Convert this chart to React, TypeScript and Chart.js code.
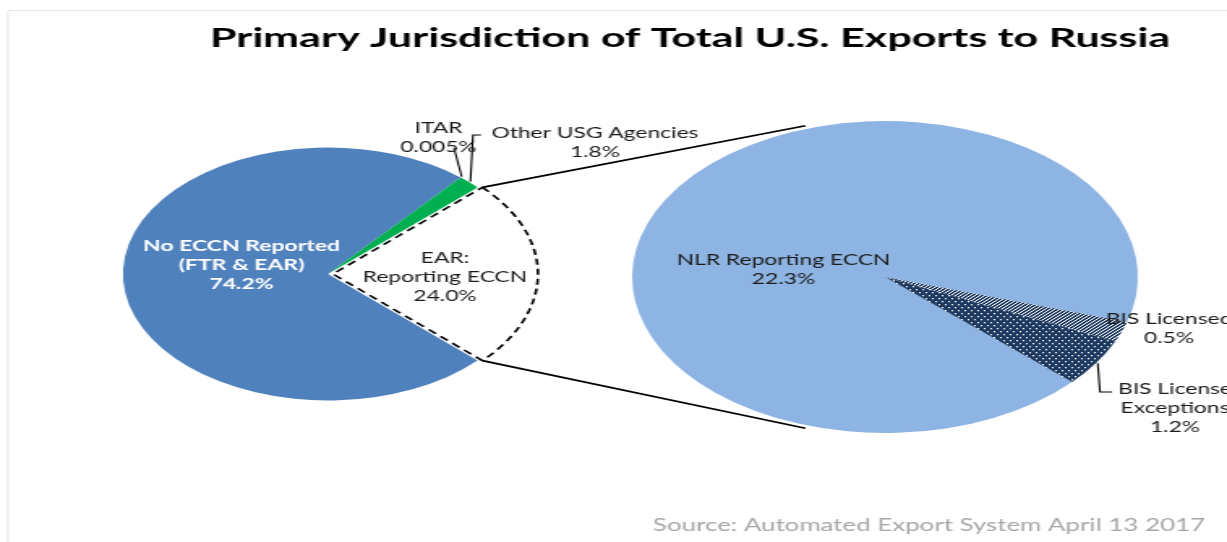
import React, { useEffect, useRef } from 'react';
import { Chart, registerables } from 'chart.js';

Chart.register(...registerables);

// ---------- data ----------
const primaryLabels: string[][] = [['EAR:', 'Reporting ECCN'], ['No ECCN Reported', '(FTR & EAR)'], ['ITAR'], ['Other USG Agencies']];
const primaryValues: number[] = [24.0, 74.2, 0.005, 1.8];
const primaryColors: string[] = ['#FFFFFF', '#4F81BD', '#00B050', '#00B050'];

const secondaryLabels: string[][] = [['NLR Reporting ECCN'], ['BIS Licensed'], ['BIS License', 'Exceptions']];
const secondaryValues: number[] = [22.3, 0.5, 1.2];

const titleText = 'Primary Jurisdiction of Total U.S. Exports to Russia';
const sourceText = 'Source: Automated Export System April 13 2017';

// ---------- layout (page pixels) ----------
const PAGE_W = 1227;
const PAGE_H = 542;
const CW = 757; // canvas drawing width; stretched to PAGE_W to get the flattened pies
const S = PAGE_W / CW;

const LEFT_PIE = { x: 328, y: 274, r: 126.5 };
const RIGHT_PIE = { x: 885, y: 277, r: 156 };
const SECONDARY_ROTATION = 132.3;
const CONNECTOR_ANGLE = 108;

const primaryLabelPos = [
  { x: 445, y: 262.7 },
  { x: 241.5, y: 250.5 },
  { x: 438.5, y: 133 },
  { x: 595, y: 137.5 },
];
const secondaryLabelPos = [
  { x: 783.5, y: 265 },
  { x: 1169, y: 324 },
  { x: 1175, y: 394 },
];
const LINE_H = 19.2;

const FONT_FAMILY = 'Lato, "Open Sans", sans-serif';
const LABEL_FONT = `16px ${FONT_FAMILY}`;
const LABEL_BOLD_FONT = `bold 16px ${FONT_FAMILY}`;
const TITLE_FONT = `bold 27px ${FONT_FAMILY}`;
const SOURCE_FONT = `17px ${FONT_FAMILY}`;

const fmt = (v: number) => (v < 0.1 ? v.toFixed(3) : v.toFixed(1)) + '%';

function makePattern(kind: 'stripes' | 'dots'): CanvasPattern | string {
  const c = document.createElement('canvas');
  const navy = '#1F3A60';
  if (kind === 'stripes') {
    c.width = 3;
    c.height = 3;
    const g = c.getContext('2d')!;
    g.fillStyle = navy;
    g.fillRect(0, 0, 3, 3);
    g.strokeStyle = '#FFFFFF';
    g.lineWidth = 1;
    g.beginPath();
    g.moveTo(-1, 4);
    g.lineTo(4, -1);
    g.moveTo(-1, 1);
    g.lineTo(1, -1);
    g.moveTo(2, 4);
    g.lineTo(4, 2);
    g.stroke();
  } else {
    c.width = 4;
    c.height = 6;
    const g = c.getContext('2d')!;
    g.fillStyle = navy;
    g.fillRect(0, 0, 4, 6);
    g.fillStyle = '#FFFFFF';
    g.fillRect(1, 1, 1, 1.3);
    g.fillRect(3, 4, 1, 1.3);
  }
  const ctx = c.getContext('2d')!;
  return ctx.createPattern(c, 'repeat') || navy;
}

export default function App() {
  const ref = useRef<HTMLCanvasElement | null>(null);

  useEffect(() => {
    document.body.style.margin = '0';
    const canvas = ref.current!;
    const stripes = makePattern('stripes');
    const dots = makePattern('dots');

    const placePies = {
      id: 'placePies',
      afterDatasetsUpdate(chart: any) {
        [LEFT_PIE, RIGHT_PIE].forEach((p, di) => {
          const meta = chart.getDatasetMeta(di);
          meta.data.forEach((arc: any) => {
            arc.x = p.x / S;
            arc.y = p.y;
            arc.innerRadius = 0;
            arc.outerRadius = p.r;
          });
        });
      },
    };

    const drawLines = (ctx: CanvasRenderingContext2D, lines: string[], cx: number, baseline: number, font: string, color: string, k: number) => {
      ctx.save();
      ctx.font = font;
      ctx.fillStyle = color;
      ctx.textAlign = 'center';
      ctx.textBaseline = 'alphabetic';
      lines.forEach((ln, i) => {
        ctx.save();
        ctx.translate(cx / S, baseline + i * LINE_H);
        ctx.scale(k / S, 1);
        ctx.fillText(ln, 0, 0);
        ctx.restore();
      });
      ctx.restore();
    };

    const decorations = {
      id: 'decorations',
      beforeDraw(chart: any) {
        const ctx = chart.ctx as CanvasRenderingContext2D;
        ctx.save();
        ctx.fillStyle = '#FFFFFF';
        ctx.fillRect(0, 0, CW, PAGE_H);
        ctx.strokeStyle = '#E6E6E6';
        ctx.lineWidth = 1;
        ctx.beginPath();
        ctx.moveTo(8 / S, 10.5);
        ctx.lineTo(CW, 10.5);
        ctx.moveTo(8 / S, 10.5);
        ctx.lineTo(8 / S, PAGE_H);
        ctx.stroke();
        ctx.restore();
      },
      afterDraw(chart: any) {
        const ctx = chart.ctx as CanvasRenderingContext2D;
        const m0 = chart.getDatasetMeta(0).data as any[];
        const m1 = chart.getDatasetMeta(1).data as any[];

        // text calibration
        ctx.save();
        ctx.font = TITLE_FONT;
        const kTitle = 960 / ctx.measureText(titleText).width;
        ctx.font = LABEL_FONT;
        const kLabel = 207 / ctx.measureText('Other USG Agencies').width;
        ctx.font = LABEL_BOLD_FONT;
        const kBold = 197 / ctx.measureText('No ECCN Reported').width;
        ctx.font = SOURCE_FONT;
        const kSource = 552 / ctx.measureText(sourceText).width;
        ctx.restore();

        // connector lines from the EAR slice to the detail pie
        const ear = m0[0];
        const earOff = (ear.options.offset || 0) / 4;
        const earMid = (ear.startAngle + ear.endAngle) / 2;
        const ex = ear.x + Math.cos(earMid) * earOff;
        const ey = ear.y + Math.sin(earMid) * earOff;
        const rp = m1[0];
        const ca = (CONNECTOR_ANGLE * Math.PI) / 180;
        const rr = rp.outerRadius + 3;
        ctx.save();
        ctx.strokeStyle = '#000000';
        ctx.lineWidth = 1.7;
        ctx.beginPath();
        ctx.moveTo(ex + Math.cos(ear.startAngle) * ear.outerRadius, ey + Math.sin(ear.startAngle) * ear.outerRadius);
        ctx.lineTo(rp.x + Math.cos(-ca) * rr, rp.y + Math.sin(-ca) * rr);
        ctx.moveTo(ex + Math.cos(ear.endAngle) * ear.outerRadius, ey + Math.sin(ear.endAngle) * ear.outerRadius);
        ctx.lineTo(rp.x + Math.cos(ca) * rr, rp.y + Math.sin(ca) * rr);
        ctx.stroke();

        // leader lines
        const edge = (arc: any, extra: number) => {
          const mid = (arc.startAngle + arc.endAngle) / 2;
          return [arc.x + Math.cos(mid) * (arc.outerRadius + extra), arc.y + Math.sin(mid) * (arc.outerRadius + extra)];
        };
        ctx.lineWidth = 1.1;
        const drawLeader = (start: number[], pts: number[][]) => {
          ctx.beginPath();
          ctx.moveTo(start[0], start[1]);
          pts.forEach((p) => ctx.lineTo(p[0] / S, p[1]));
          ctx.stroke();
        };
        drawLeader(edge(m0[2], 1), [[454, 148]]);
        drawLeader(edge(m0[3], 1), [[473, 135], [481, 135]]);
        drawLeader(edge(m1[2], 1), [[1100, 392], [1112, 392]]);
        ctx.restore();

        // title
        drawLines(ctx, [titleText], 690, 47, TITLE_FONT, '#000000', kTitle);

        // primary labels
        primaryLabels.forEach((lines, i) => {
          const p = primaryLabelPos[i];
          const bold = i === 1;
          drawLines(
            ctx,
            [...lines, fmt(primaryValues[i])],
            p.x,
            p.y,
            bold ? LABEL_BOLD_FONT : LABEL_FONT,
            bold ? '#FFFFFF' : '#1A1A1A',
            bold ? kBold : kLabel,
          );
        });
        secondaryLabels.forEach((lines, i) => {
          const p = secondaryLabelPos[i];
          drawLines(ctx, [...lines, fmt(secondaryValues[i])], p.x, p.y, LABEL_FONT, '#1A1A1A', kLabel);
        });

        // source
        drawLines(ctx, [sourceText], 929, 530.5, SOURCE_FONT, '#A6A6A6', kSource);
      },
    };

    const earHalf = ((primaryValues[0] / primaryValues.reduce((a, b) => a + b, 0)) * 360) / 2;

    const chart = new Chart(canvas, {
      type: 'pie',
      data: {
        labels: primaryLabels.map((l) => l.join(' ')),
        datasets: [
          {
            data: primaryValues,
            backgroundColor: primaryColors,
            borderColor: ['#000000', '#FFFFFF', '#FFFFFF', '#FFFFFF'],
            borderWidth: [1.6, 0, 0, 0],
            borderDash: [6, 4],
            offset: [12, 0, 0, 0],
            rotation: 90 - earHalf,
          } as any,
          {
            data: secondaryValues,
            backgroundColor: ['#8DB4E2', stripes, dots],
            borderWidth: 0,
            rotation: SECONDARY_ROTATION,
          } as any,
        ],
      },
      options: {
        responsive: false,
        animation: false,
        devicePixelRatio: 1,
        events: [],
        plugins: {
          legend: { display: false },
          tooltip: { enabled: false },
          title: { display: false },
        },
      } as any,
      plugins: [placePies, decorations],
    });
    return () => chart.destroy();
  }, []);

  return (
    <canvas
      ref={ref}
      width={CW}
      height={PAGE_H}
      style={{ position: 'absolute', left: 0, top: 0, width: `${PAGE_W}px`, height: `${PAGE_H}px` }}
    />
  );
}
